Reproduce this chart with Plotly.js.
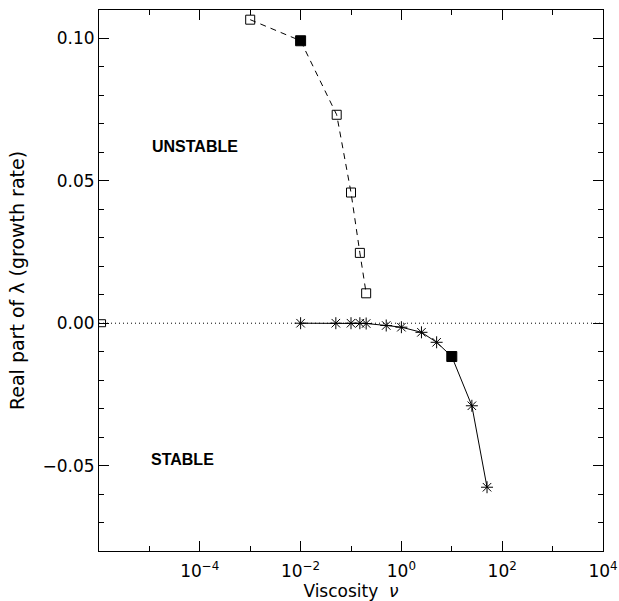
<!DOCTYPE html>
<html>
<head>
<meta charset="utf-8">
<script src="https://cdn.plot.ly/plotly-3.0.1.min.js"></script>
<style>
  html, body { margin: 0; padding: 0; background: #fff; }
  #chart { width: 619px; height: 601px; }
</style>
</head>
<body>
<div id="chart"></div>
<script>
// Unstable branch: growth rate vs viscosity (dashed, open squares)
const unstableNu     = [0.001, 0.01, 0.052, 0.1, 0.15, 0.2];
const unstableLambda = [0.1066, 0.0992, 0.0732, 0.0459, 0.0247, 0.0105];
const unstableSymbol = ['square-open', 'square', 'square-open', 'square-open', 'square-open', 'square-open'];

// Isolated point on the left edge at zero growth
const edgeNu     = [1.15e-6];
const edgeLambda = [0];

// Stable branch: damping rate vs viscosity (solid, asterisks)
const stableNu     = [0.01, 0.05, 0.1, 0.15, 0.2, 0.5, 1, 2.5, 5, 10, 25, 50];
const stableLambda = [0, 0, 0, 0, -0.0001, -0.0008, -0.0014, -0.0032, -0.0067, -0.0117, -0.029, -0.0576];
const stableSymbol = ['asterisk-open', 'asterisk-open', 'asterisk-open', 'asterisk-open', 'asterisk-open',
                      'asterisk-open', 'asterisk-open', 'asterisk-open', 'asterisk-open', 'square',
                      'asterisk-open', 'asterisk-open'];

// Axis ticks
const xTickVals  = [1e-4, 1e-2, 1, 1e2, 1e4];
const xTickText  = ['10<sup>−4</sup>', '10<sup>−2</sup>', '10<sup>0</sup>', '10<sup>2</sup>', '10<sup>4</sup>'];
const xMinorVals = [1e-5, 1e-3, 1e-1, 1e1, 1e3];

const ink = '#000';
const tickFont = { family: 'DejaVu Sans, sans-serif', size: 17, color: ink };

const traces = [
  {
    x: unstableNu, y: unstableLambda, type: 'scatter', mode: 'lines+markers',
    line: { color: ink, width: 1, dash: '6px,5px' },
    marker: {
      symbol: unstableSymbol,
      size: unstableSymbol.map(s => s === 'square' ? 10 : 9),
      color: ink, opacity: 1, line: { color: ink, width: 1 }
    },
    showlegend: false, hoverinfo: 'x+y'
  },
  {
    x: edgeNu, y: edgeLambda, type: 'scatter', mode: 'markers',
    marker: { symbol: 'square-open', size: 7, color: ink, line: { color: ink, width: 1 } },
    showlegend: false, hoverinfo: 'x+y'
  },
  {
    x: stableNu, y: stableLambda, type: 'scatter', mode: 'lines+markers',
    line: { color: ink, width: 1 },
    marker: {
      symbol: stableSymbol,
      size: 10,
      color: ink, opacity: 1, line: { color: ink, width: 1 }
    },
    showlegend: false, hoverinfo: 'x+y'
  }
];

const layout = {
  width: 619, height: 601,
  margin: { l: 99, r: 16, t: 10, b: 50 },
  paper_bgcolor: '#fff', plot_bgcolor: '#fff',
  showlegend: false,
  xaxis: {
    type: 'log', range: [-6, 4],
    tickmode: 'array', tickvals: xTickVals, ticktext: xTickText,
    ticks: 'inside', ticklen: 10, tickwidth: 1, tickcolor: ink,
    ticklabelstandoff: 5,
    minor: { tickmode: 'array', tickvals: xMinorVals, ticks: 'inside', ticklen: 5, tickwidth: 1, tickcolor: ink, showgrid: false },
    showline: true, linecolor: ink, linewidth: 1, mirror: 'ticks',
    showgrid: false, zeroline: false,
    tickfont: tickFont,
    title: { text: 'Viscosity  <i>ν</i>', font: { family: 'DejaVu Sans, sans-serif', size: 17, color: ink }, standoff: 11 }
  },
  yaxis: {
    range: [-0.08, 0.11],
    tickmode: 'linear', tick0: 0, dtick: 0.05, tickformat: '.2f',
    ticks: 'inside', ticklen: 10, tickwidth: 1, tickcolor: ink,
    minor: { dtick: 0.01, ticks: 'inside', ticklen: 5, tickwidth: 1, tickcolor: ink, showgrid: false },
    showline: true, linecolor: ink, linewidth: 1, mirror: 'ticks',
    showgrid: false, zeroline: false,
    tickfont: tickFont,
    title: { text: 'Real part of λ (growth rate)', font: { family: 'DejaVu Sans, sans-serif', size: 19, color: ink }, standoff: 12 }
  },
  shapes: [
    {
      type: 'line', xref: 'paper', yref: 'y', x0: 0, x1: 1, y0: 0, y1: 0,
      line: { color: ink, width: 1, dash: '1px,3px' }, layer: 'below'
    }
  ],
  annotations: [
    {
      text: 'UNSTABLE', xref: 'x', yref: 'y', x: -4.1, y: 0.062, showarrow: false,
      font: { family: 'Liberation Sans, Arial, sans-serif', size: 16, color: ink, weight: 'bold' }
    },
    {
      text: 'STABLE', xref: 'x', yref: 'y', x: -4.35, y: -0.048, showarrow: false,
      font: { family: 'Liberation Sans, Arial, sans-serif', size: 16, color: ink, weight: 'bold' }
    }
  ]
};

Plotly.newPlot('chart', traces, layout, { displayModeBar: false, staticPlot: true });
</script>
</body>
</html>
